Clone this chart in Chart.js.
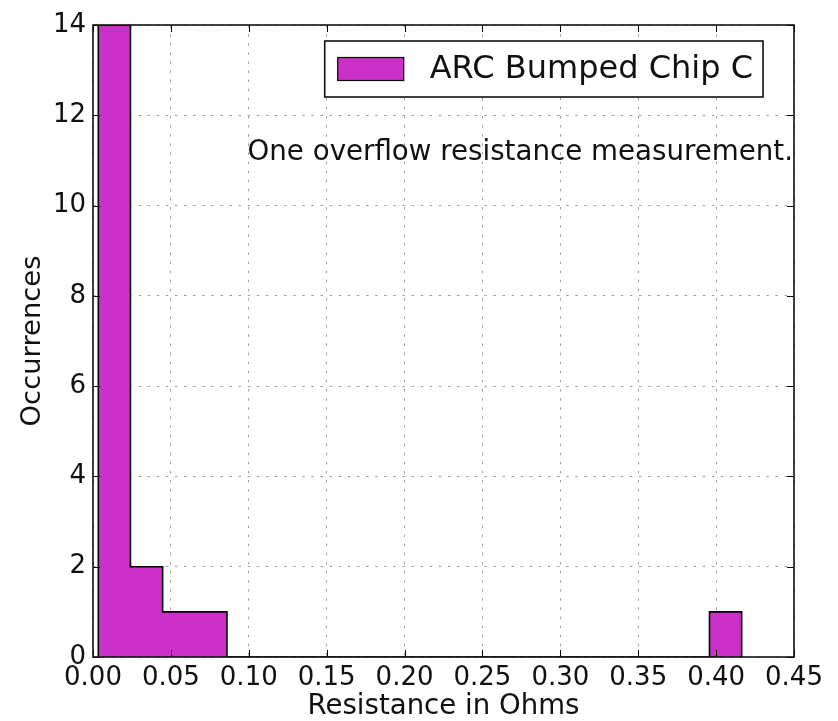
<!DOCTYPE html>
<html>
<head>
<meta charset="utf-8">
<script src="https://cdn.jsdelivr.net/npm/chart.js@4/dist/chart.umd.min.js"></script>
<style>
  html, body { margin: 0; padding: 0; background: #ffffff; }
  #wrap { width: 838px; height: 721px; position: relative; }
</style>
</head>
<body>
<div id="wrap"><canvas id="c" width="838" height="721"></canvas></div>
<script>
// ---- data ----
const seriesLabel = 'ARC Bumped Chip C';
const binEdges = [0.0034, 0.02405, 0.0447, 0.06535, 0.086, 0.10665, 0.1273, 0.14795, 0.1686, 0.18925,
                  0.2099, 0.23055, 0.2512, 0.27185, 0.2925, 0.31315, 0.3338, 0.35445, 0.3751, 0.39575, 0.4164];
const counts   = [14, 2, 1, 1, 0, 0, 0, 0, 0, 0, 0, 0, 0, 0, 0, 0, 0, 0, 0, 1];
const xTickLabels = ['0.00', '0.05', '0.10', '0.15', '0.20', '0.25', '0.30', '0.35', '0.40', '0.45'];
const yTickLabels = ['0', '2', '4', '6', '8', '10', '12', '14'];
const xTitle = 'Resistance in Ohms';
const yTitle = 'Occurrences';
const noteText = 'One overflow resistance measurement.';

const FILL = '#cb30c9';
const FONT = '"DejaVu Sans", "Liberation Sans", sans-serif';

// stepped outline points built from bin edges and counts
const histPoints = [{ x: binEdges[0], y: 0 }].concat(
  binEdges.map((e, i) => ({ x: e, y: i < counts.length ? counts[i] : 0 }))
);

const framePlugin = {
  id: 'framePlugin',
  afterDraw(chart) {
    const ctx = chart.ctx;
    const a = chart.chartArea;
    const xs = chart.scales.x, ys = chart.scales.y;
    ctx.save();
    // inward tick marks on all four sides
    ctx.strokeStyle = '#000';
    ctx.lineWidth = 1;
    const tl = 7;
    ctx.beginPath();
    xs.ticks.forEach(t => {
      const px = Math.round(xs.getPixelForValue(t.value)) + 0.5;
      ctx.moveTo(px, a.bottom); ctx.lineTo(px, a.bottom - tl);
      ctx.moveTo(px, a.top); ctx.lineTo(px, a.top + tl);
    });
    ys.ticks.forEach(t => {
      const py = Math.round(ys.getPixelForValue(t.value)) + 0.5;
      ctx.moveTo(a.left, py); ctx.lineTo(a.left + tl, py);
      ctx.moveTo(a.right, py); ctx.lineTo(a.right - tl, py);
    });
    ctx.stroke();
    // frame
    ctx.lineWidth = 1.6;
    ctx.strokeStyle = '#111';
    ctx.strokeRect(a.left, a.top, a.right - a.left, a.bottom - a.top);

    // annotation
    ctx.fillStyle = '#111';
    ctx.font = '27.7px ' + FONT;
    ctx.textAlign = 'right';
    ctx.textBaseline = 'alphabetic';
    ctx.fillText(noteText, a.right - 1, a.top + 135);

    // legend
    const ds = chart.data.datasets[0];
    ctx.font = '32px ' + FONT;
    const tw = ctx.measureText(ds.label).width;
    const boxRight = a.right - 31;
    const boxTop = a.top + 16;
    const boxH = 56;
    const patchW = 66, patchH = 23, padL = 13, gap = 26, padR = 10;
    const boxW = padL + patchW + gap + tw + padR;
    const boxLeft = boxRight - boxW;
    ctx.fillStyle = '#fff';
    ctx.fillRect(boxLeft, boxTop, boxW, boxH);
    ctx.lineWidth = 1.6;
    ctx.strokeStyle = '#111';
    ctx.strokeRect(boxLeft, boxTop, boxW, boxH);
    ctx.fillStyle = ds.backgroundColor;
    const py = boxTop + (boxH - patchH) / 2;
    ctx.fillRect(boxLeft + padL, py, patchW, patchH);
    ctx.lineWidth = 1.2;
    ctx.strokeStyle = '#000';
    ctx.strokeRect(boxLeft + padL, py, patchW, patchH);
    ctx.fillStyle = '#111';
    ctx.textAlign = 'left';
    ctx.textBaseline = 'alphabetic';
    ctx.fillText(ds.label, boxLeft + padL + patchW + gap, boxTop + 37);
    ctx.restore();
  }
};

new Chart(document.getElementById('c'), {
  type: 'line',
  data: {
    datasets: [{
      label: seriesLabel,
      data: histPoints,
      stepped: 'before',
      fill: 'origin',
      backgroundColor: FILL,
      borderColor: '#000',
      borderWidth: 1.6,
      pointRadius: 0,
      pointHoverRadius: 0,
      tension: 0
    }]
  },
  options: {
    responsive: false,
    animation: false,
    devicePixelRatio: 1,
    layout: { padding: { top: 25, right: 44, left: 0, bottom: 0 } },
    plugins: {
      legend: { display: false },
      tooltip: { enabled: false }
    },
    scales: {
      x: {
        type: 'linear',
        position: 'bottom',
        min: 0,
        max: 0.45,
        z: 1,
        afterFit(scale) { scale.height = 64; },
        ticks: {
          stepSize: 0.05,
          autoSkip: false,
          maxRotation: 0,
          padding: 6,
          color: '#111',
          font: { family: FONT, size: 26 },
          callback: (v, i) => xTickLabels[i]
        },
        grid: {
          color: 'rgba(0,0,0,0.38)',
          lineWidth: 1,
          drawTicks: false
        },
        border: { display: false, dash: [2.5, 6.6] },
        title: {
          display: true,
          text: xTitle,
          color: '#111',
          font: { family: FONT, size: 27.6, lineHeight: 1 },
          padding: { top: 0, bottom: 0 }
        }
      },
      y: {
        type: 'linear',
        min: 0,
        max: 14,
        z: 1,
        afterFit(scale) { scale.width = 93; },
        ticks: {
          stepSize: 2,
          autoSkip: false,
          padding: 7,
          color: '#111',
          font: { family: FONT, size: 26 },
          callback: (v, i) => yTickLabels[i]
        },
        grid: {
          color: 'rgba(0,0,0,0.38)',
          lineWidth: 1,
          drawTicks: false
        },
        border: { display: false, dash: [2.5, 6.6] },
        title: {
          display: true,
          text: yTitle,
          color: '#111',
          font: { family: FONT, size: 27.4, lineHeight: 1 },
          padding: { top: 19, bottom: 0 }
        }
      }
    }
  },
  plugins: [framePlugin]
});
</script>
</body>
</html>
